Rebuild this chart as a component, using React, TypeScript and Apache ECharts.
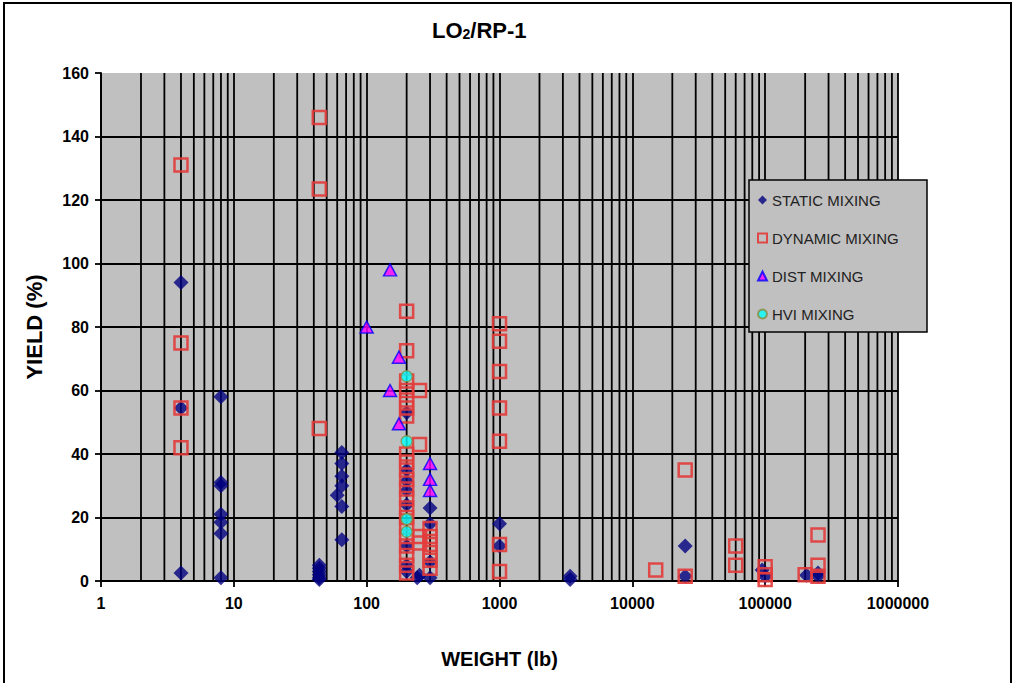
import React, { useEffect, useRef } from "react";
import * as echarts from "echarts";

// [weight (lb), yield (%)]
const staticMixing: number[][] = [
  [4, 94], [4, 54.5], [4, 2.5],
  [8, 58], [8, 31], [8, 30], [8, 21], [8, 18.5], [8, 15], [8, 1],
  [44, 5], [44, 4], [44, 3], [44, 2], [44, 1], [44, 0.5],
  [60, 27], [65, 40.5], [65, 37], [65, 33], [65, 30], [65, 23.5], [65, 13],
  [200, 53], [200, 35], [200, 31.5], [200, 28.5], [200, 24], [200, 11], [200, 5], [200, 3],
  [240, 1], [250, 1.8],
  [300, 23], [300, 18], [300, 6], [300, 1],
  [1000, 18], [1000, 11],
  [3400, 1.5], [3400, 0.5],
  [25000, 11], [25000, 1.5],
  [95000, 3.5], [100000, 1.5],
  [205000, 1.8], [250000, 2.5], [250000, 1.5],
];

const dynamicMixing: number[][] = [
  [4, 131], [4, 75], [4, 54.5], [4, 42],
  [44, 146], [44, 123.5], [44, 48],
  [200, 85], [200, 72.5], [200, 63], [200, 60], [200, 57], [200, 54.5], [200, 52],
  [200, 40], [200, 37.5], [200, 35], [200, 32], [200, 29], [200, 26], [200, 23],
  [200, 20], [200, 17], [200, 14], [200, 11], [200, 8], [200, 5], [200, 2.5],
  [250, 60], [250, 43], [250, 14], [250, 12],
  [300, 16.5], [300, 14], [300, 11.5], [300, 9], [300, 6.5], [300, 4],
  [1000, 81], [1000, 75.5], [1000, 66], [1000, 54.5], [1000, 44], [1000, 11.5], [1000, 3],
  [15000, 3.5], [25000, 35], [25000, 1.5],
  [60000, 11], [60000, 5],
  [100000, 4.5], [100000, 2], [100000, 0.5],
  [200000, 2], [250000, 14.5], [250000, 5], [250000, 1.5],
];

const distMixing: number[][] = [
  [150, 98], [100, 80], [175, 70.5], [150, 60], [175, 49.5],
  [300, 37], [300, 32], [300, 28.5],
];

const hviMixing: number[][] = [
  [200, 64.5], [200, 44], [200, 19.5], [200, 15.5],
];

const seriesNames = ["STATIC MIXING", "DYNAMIC MIXING", "DIST MIXING", "HVI MIXING"];
const decades = [1, 10, 100, 1000, 10000, 100000];
const minorSteps = [2, 3, 4, 5, 6, 7, 8, 9];
const minorGridValues: number[] = [];
decades.forEach((d) => minorSteps.forEach((m) => minorGridValues.push(d * m)));

const FONT = "'Liberation Sans', Arial, sans-serif";
const GRID_W = 1.8;

export default function App() {
  const ref = useRef<HTMLDivElement>(null);

  useEffect(() => {
    if (!ref.current) return;
    const chart = echarts.init(ref.current, null, { renderer: "svg" });
    const option: any = {
      animation: false,
      backgroundColor: "#ffffff",
      textStyle: { fontFamily: FONT },
      title: {
        text: "{a|LO}{b|2}{a|/RP-1}",
        left: 427,
        top: 8,
        textStyle: {
          rich: {
            a: { fontSize: 22, fontWeight: "bold", color: "#000", fontFamily: FONT, lineHeight: 28, verticalAlign: "bottom" },
            b: { fontSize: 14, fontWeight: "bold", color: "#000", fontFamily: FONT, lineHeight: 18, verticalAlign: "bottom" },
          },
        },
      },
      grid: {
        left: 101,
        right: 119,
        top: 73,
        bottom: 102,
        show: true,
        backgroundColor: "#c0c0c0",
        borderWidth: 0,
      },
      xAxis: {
        type: "log",
        logBase: 10,
        min: 1,
        max: 1000000,
        splitNumber: 6,
        name: "WEIGHT (lb)",
        nameLocation: "middle",
        nameGap: 68,
        nameTextStyle: { fontSize: 20, fontWeight: "bold", color: "#000", fontFamily: FONT },
        axisLine: { show: true, lineStyle: { color: "#000", width: GRID_W } },
        axisTick: { show: true, length: 6, lineStyle: { color: "#000", width: GRID_W } },
        axisLabel: {
          margin: 14,
          fontSize: 16,
          fontWeight: "bold",
          color: "#000",
          fontFamily: FONT,
          formatter: (v: number) => String(Math.round(v)),
        },
        splitLine: { show: true, lineStyle: { color: "#000", width: GRID_W } },
        minorTick: { show: false },
        minorSplitLine: { show: false },
      },
      yAxis: {
        type: "value",
        min: 0,
        max: 160,
        interval: 20,
        name: "YIELD (%)",
        nameLocation: "middle",
        nameGap: 56,
        nameRotate: 90,
        nameTextStyle: { fontSize: 22, fontWeight: "bold", color: "#000", fontFamily: FONT },
        axisLine: { show: true, lineStyle: { color: "#000", width: GRID_W } },
        axisTick: { show: true, length: 6, lineStyle: { color: "#000", width: GRID_W } },
        axisLabel: { margin: 12, fontSize: 16, fontWeight: "bold", color: "#000", fontFamily: FONT },
        splitLine: { show: true, showMaxLine: false, lineStyle: { color: "#000", width: GRID_W } },
      },
      legend: {
        data: seriesNames,
        orient: "vertical",
        left: 752,
        top: 187,
        itemGap: 22,
        itemWidth: 9,
        itemHeight: 9,
        z: 60,
        textStyle: { fontSize: 15, color: "#222", fontFamily: FONT, lineHeight: 16 },
      },
      graphic: [
        {
          type: "rect",
          z: 50,
          shape: { x: 749, y: 180, width: 178, height: 152 },
          style: { fill: "#c0c0c0", stroke: "#000", lineWidth: 1.5 },
        },
        {
          type: "rect",
          z: 50,
          shape: { x: 4, y: 3, width: 1007, height: 700 },
          style: { fill: "none", stroke: "#000", lineWidth: 2 },
        },
      ],
      series: [
        {
          type: "custom",
          name: "minor grid",
          silent: true,
          z: 1,
          data: minorGridValues.map((v) => [v, 0]),
          renderItem: (params: any, api: any) => {
            const x = api.value(0);
            const p1 = api.coord([x, 0]);
            const p2 = api.coord([x, 160]);
            return {
              type: "line",
              shape: { x1: p1[0], y1: p1[1], x2: p2[0], y2: p2[1] },
              style: { stroke: "#000", lineWidth: GRID_W },
            };
          },
        },
        {
          type: "scatter",
          name: seriesNames[0],
          z: 10,
          symbol: "diamond",
          symbolSize: [15, 15],
          itemStyle: { color: "#000080" },
          data: staticMixing,
        },
        {
          type: "scatter",
          name: seriesNames[1],
          z: 11,
          symbol: "rect",
          symbolSize: 13,
          itemStyle: { color: "rgba(0,0,0,0)", borderColor: "#e33b3b", borderWidth: 2.5, opacity: 0.9 },
          data: dynamicMixing,
        },
        {
          type: "scatter",
          name: seriesNames[2],
          z: 12,
          symbol: "triangle",
          symbolSize: [13, 12],
          itemStyle: { color: "#ff00ff", borderColor: "#0000ff", borderWidth: 1.5 },
          data: distMixing,
        },
        {
          type: "scatter",
          name: seriesNames[3],
          z: 13,
          symbol: "circle",
          symbolSize: 11,
          itemStyle: { color: "#00ffff", borderColor: "#8a8a40", borderWidth: 1.3 },
          data: hviMixing,
        },
      ],
    };
    chart.setOption(option);
    return () => chart.dispose();
  }, []);

  return (
    <div
      ref={ref}
      style={{ position: "absolute", left: 0, top: 0, width: 1017, height: 683, background: "#fff" }}
    />
  );
}
